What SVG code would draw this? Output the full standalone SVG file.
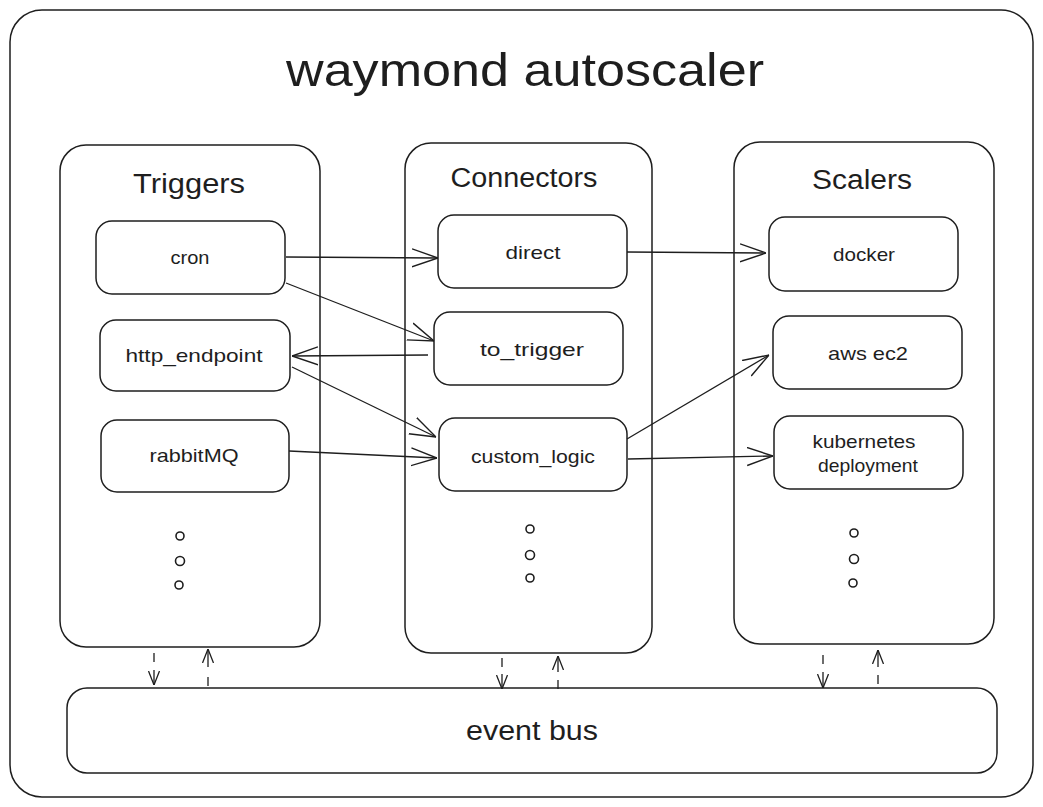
<svg xmlns="http://www.w3.org/2000/svg" width="1043" height="807" viewBox="0 0 1043 807">
<style>
  .box { fill: #ffffff; stroke: #1e1e1e; stroke-width: 1.5; }
  .t { font-family: "Liberation Sans", "DejaVu Sans", sans-serif; fill: #1e1e1e; text-anchor: middle; }
  .lbl { font-size: 19px; }
  .hdr { font-size: 27px; }
  .conn { fill: none; stroke: #1e1e1e; stroke-width: 1.3; }
  .dot { fill: none; stroke: #1e1e1e; stroke-width: 1.6; }
</style>
<defs>
  <marker id="ah" viewBox="0 0 26 20" refX="26" refY="10" markerWidth="26" markerHeight="20" markerUnits="userSpaceOnUse" orient="auto">
    <path d="M0,1 L26,10 L0,19" fill="none" stroke="#1e1e1e" stroke-width="1.4"/>
  </marker>
  <marker id="ahs" viewBox="0 0 14 12" refX="14" refY="6" markerWidth="14" markerHeight="12" markerUnits="userSpaceOnUse" orient="auto">
    <path d="M0,0.5 L14,6 L0,11.5" fill="none" stroke="#1e1e1e" stroke-width="1.3"/>
  </marker>
</defs>
<rect width="1043" height="807" fill="#ffffff"/>

<g id="frame">
  <rect class="box" x="10" y="10" width="1023" height="787" rx="32"/>
  <text class="t" x="525" y="86" font-size="46" textLength="478" lengthAdjust="spacingAndGlyphs">waymond autoscaler</text>
</g>

<g id="triggers">
  <rect class="box" x="60" y="145" width="260" height="502" rx="26"/>
  <text class="t hdr" x="189" y="193" textLength="112" lengthAdjust="spacingAndGlyphs">Triggers</text>
</g>
<g id="connectors">
  <rect class="box" x="405" y="143" width="247" height="510" rx="26"/>
  <text class="t hdr" x="524" y="187" textLength="147" lengthAdjust="spacingAndGlyphs">Connectors</text>
</g>
<g id="scalers">
  <rect class="box" x="734" y="142" width="260" height="502" rx="26"/>
  <text class="t hdr" x="862" y="189" textLength="100" lengthAdjust="spacingAndGlyphs">Scalers</text>
</g>

<g id="cron">
  <rect class="box" x="96" y="221" width="189" height="73" rx="16"/>
  <text class="t lbl" x="190" y="264" textLength="39" lengthAdjust="spacingAndGlyphs">cron</text>
</g>
<g id="http_endpoint">
  <rect class="box" x="100" y="320" width="190" height="71" rx="16"/>
  <text class="t lbl" x="194" y="362" textLength="137" lengthAdjust="spacingAndGlyphs">http_endpoint</text>
</g>
<g id="rabbitMQ">
  <rect class="box" x="101" y="420" width="188" height="72" rx="16"/>
  <text class="t lbl" x="194" y="462" textLength="89" lengthAdjust="spacingAndGlyphs">rabbitMQ</text>
</g>

<g id="direct">
  <rect class="box" x="438" y="215" width="189" height="73" rx="16"/>
  <text class="t lbl" x="533" y="259" textLength="55" lengthAdjust="spacingAndGlyphs">direct</text>
</g>
<g id="to_trigger">
  <rect class="box" x="434" y="312" width="189" height="73" rx="16"/>
  <text class="t lbl" x="532" y="356" textLength="104" lengthAdjust="spacingAndGlyphs">to_trigger</text>
</g>
<g id="custom_logic">
  <rect class="box" x="439" y="418" width="188" height="73" rx="16"/>
  <text class="t lbl" x="533" y="463" textLength="124" lengthAdjust="spacingAndGlyphs">custom_logic</text>
</g>

<g id="docker">
  <rect class="box" x="769" y="217" width="189" height="74" rx="16"/>
  <text class="t lbl" x="864" y="261" textLength="62" lengthAdjust="spacingAndGlyphs">docker</text>
</g>
<g id="aws_ec2">
  <rect class="box" x="773" y="316" width="189" height="73" rx="16"/>
  <text class="t lbl" x="868" y="360" textLength="80" lengthAdjust="spacingAndGlyphs">aws ec2</text>
</g>
<g id="kubernetes_deployment">
  <rect class="box" x="774" y="416" width="189" height="73" rx="16"/>
  <text class="t lbl" x="864" y="448" textLength="103" lengthAdjust="spacingAndGlyphs">kubernetes</text>
  <text class="t lbl" x="868" y="472" textLength="100" lengthAdjust="spacingAndGlyphs">deployment</text>
</g>

<g id="dots">
  <circle class="dot" cx="180" cy="536" r="4"/>
  <circle class="dot" cx="180" cy="561" r="4.5"/>
  <circle class="dot" cx="179" cy="585" r="4"/>
  <circle class="dot" cx="530" cy="529" r="4"/>
  <circle class="dot" cx="530" cy="555" r="4.5"/>
  <circle class="dot" cx="530" cy="578" r="4"/>
  <circle class="dot" cx="854" cy="533" r="4"/>
  <circle class="dot" cx="854" cy="559" r="4.5"/>
  <circle class="dot" cx="853" cy="583" r="4"/>
</g>

<g id="event_bus">
  <rect class="box" x="67" y="688" width="930" height="85" rx="20"/>
  <text class="t" x="532" y="740" font-size="27" textLength="132" lengthAdjust="spacingAndGlyphs">event bus</text>
</g>

<g id="connectors-lines">
  <path class="conn" marker-end="url(#ah)" d="M286,257 L438,258"/>
  <path class="conn" marker-end="url(#ah)" d="M286,283 L434,341"/>
  <path class="conn" marker-end="url(#ah)" d="M428,355 L292,356"/>
  <path class="conn" marker-end="url(#ah)" d="M292,367 L436,437"/>
  <path class="conn" marker-end="url(#ah)" d="M289,451 L437,458"/>
  <path class="conn" marker-end="url(#ah)" d="M627,252 L766,253"/>
  <path class="conn" marker-end="url(#ah)" d="M627,439 L769,355"/>
  <path class="conn" marker-end="url(#ah)" d="M628,459 L773,456"/>

  <!-- triggers <-> event bus -->
  <path class="conn" d="M154,653 L154,662"/>
  <path class="conn" marker-end="url(#ahs)" d="M154,670 L154,685"/>
  <path class="conn" d="M208,686 L208,677"/>
  <path class="conn" marker-end="url(#ahs)" d="M208,667 L208,649"/>
  <!-- connectors <-> event bus -->
  <path class="conn" d="M502,658 L502,667"/>
  <path class="conn" marker-end="url(#ahs)" d="M502,674 L502,689"/>
  <path class="conn" d="M558,689 L558,680"/>
  <path class="conn" marker-end="url(#ahs)" d="M558,672 L558,656"/>
  <!-- scalers <-> event bus -->
  <path class="conn" d="M823,655 L823,664"/>
  <path class="conn" marker-end="url(#ahs)" d="M823,672 L823,688"/>
  <path class="conn" d="M878,684 L878,675"/>
  <path class="conn" marker-end="url(#ahs)" d="M878,667 L878,650"/>
</g>
</svg>
